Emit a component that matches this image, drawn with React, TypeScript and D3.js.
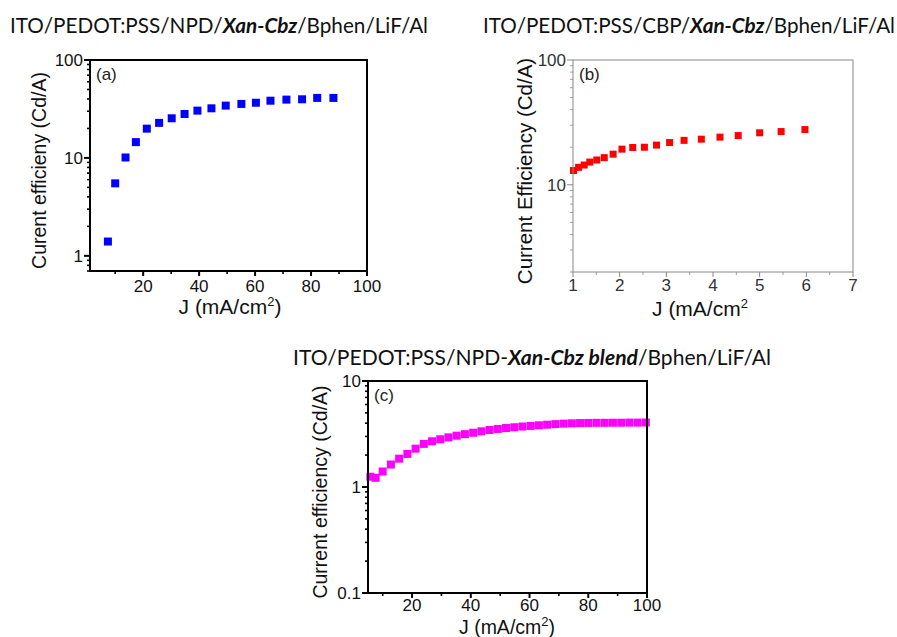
import React from 'react'
import * as d3 from 'd3'

// panel (a) ITO/PEDOT:PSS/NPD/Xan-Cbz/Bphen/LiF/Al
const jA = [7.4, 10.0, 13.7, 17.4, 21.3, 25.7, 30.2, 34.8, 39.4, 44.4, 49.5, 55.1, 60.3, 65.5, 71.2, 76.8, 82.2, 88.0]
const ceA = [1.4, 5.5, 10.1, 14.5, 19.9, 22.8, 25.4, 28.1, 30.4, 32.1, 34.2, 35.6, 36.6, 38.4, 39.4, 39.7, 41.0, 41.0]

// panel (b) ITO/PEDOT:PSS/CBP/Xan-Cbz/Bphen/LiF/Al
const jB = [1.01, 1.12, 1.24, 1.36, 1.51, 1.67, 1.86, 2.05, 2.28, 2.53, 2.79, 3.07, 3.38, 3.75, 4.15, 4.54, 5.0, 5.46, 5.97]
const ceB = [13.0, 13.8, 14.4, 15.2, 15.8, 16.5, 17.6, 19.3, 19.9, 20.0, 20.8, 21.8, 22.7, 23.2, 24.1, 24.8, 26.1, 26.7, 27.7]

// panel (c) ITO/PEDOT:PSS/NPD-Xan-Cbz blend/Bphen/LiF/Al
const jC = [5.8, 7.6, 10.0, 12.8, 15.6, 18.4, 21.2, 24.0, 26.8, 29.6, 32.4, 35.2, 38.0, 40.8, 43.6, 46.4, 49.2, 52.0, 54.8, 57.6, 60.4, 63.2, 66.0, 68.8, 71.6, 74.4, 77.2, 80.0, 82.8, 85.6, 88.4, 91.2, 94.0, 96.8, 99.6]
const ceC = [1.25, 1.22, 1.40, 1.63, 1.85, 2.05, 2.30, 2.55, 2.70, 2.82, 2.94, 3.05, 3.15, 3.25, 3.35, 3.45, 3.53, 3.60, 3.66, 3.72, 3.77, 3.82, 3.87, 3.92, 3.96, 3.99, 4.01, 4.02, 4.03, 4.03, 4.04, 4.04, 4.05, 4.05, 4.06]

const xTicksA = [20, 40, 60, 80, 100]
const xMinorA = [10, 30, 50, 70, 90]
const xTicksB = [1, 2, 3, 4, 5, 6, 7]
const xMinorB = [1.5, 2.5, 3.5, 4.5, 5.5, 6.5]
const xTicksC = [20, 40, 60, 80, 100]
const xMinorC = [10, 30, 50, 70, 90]

const ARIAL = '"Liberation Sans", Arial, sans-serif'
const TITLE_FONT = 'Lato, "Open Sans", sans-serif'

type PanelProps = {
	x: number[]
	y: number[]
	color: string
	left: number
	right: number
	top: number
	bottom: number
	xDomain: [number, number]
	yDomain: [number, number]
	xTicks: number[]
	xMinor: number[]
	letter: string
	yLabel: string
	yLabelX: number
	yLabelSize: number
	xLabelX: number
	xLabelY: number
	xLabelSize: number
	closeParen: boolean
	axisColor: string
	axisWidth: number
	marker: number
	tickBase: number
}

function Panel(p: PanelProps) {
	const xs = d3.scaleLinear().domain(p.xDomain).range([p.left, p.right])
	const ys = d3.scaleLog().domain(p.yDomain).range([p.bottom, p.top])
	const majors: number[] = []
	const minors: number[] = []
	for (let e = -2; e <= 3; e++) {
		const base = Math.pow(10, e)
		if (base >= p.yDomain[0] - 1e-9 && base <= p.yDomain[1] + 1e-9) majors.push(base)
		for (let k = 2; k <= 9; k++) {
			const v = k * base
			if (v >= p.yDomain[0] - 1e-9 && v <= p.yDomain[1] + 1e-9) minors.push(v)
		}
	}
	const fmt = (v: number) => (v < 1 ? String(+v.toFixed(1)) : String(v))
	const tc = p.axisColor === '#000' ? '#111' : '#333'
	return (
		<g>
			{p.x.map((d, i) => (
				<rect key={'m' + i} x={xs(d) - p.marker / 2} y={ys(p.y[i]) - p.marker / 2}
					width={p.marker} height={p.marker} fill={p.color} />
			))}
			<rect x={p.left} y={p.top} width={p.right - p.left} height={p.bottom - p.top}
				fill="none" stroke={p.axisColor} strokeWidth={p.axisWidth} />
			{majors.map(v => (
				<g key={'ym' + v}>
					<line x1={p.left - 6} x2={p.left} y1={ys(v)} y2={ys(v)} stroke={p.axisColor} strokeWidth={p.axisWidth} />
					<text x={p.left - 7} y={ys(v)} dy="0.35em" textAnchor="end" fontFamily={ARIAL} fontSize={17} fill={tc}>{fmt(v)}</text>
				</g>
			))}
			{minors.map(v => (
				<line key={'yn' + v} x1={p.left - 3} x2={p.left} y1={ys(v)} y2={ys(v)} stroke={p.axisColor} strokeWidth={p.axisWidth * 0.8} />
			))}
			{p.xTicks.map(v => (
				<g key={'xm' + v}>
					<line x1={xs(v)} x2={xs(v)} y1={p.bottom} y2={p.bottom + 5} stroke={p.axisColor} strokeWidth={p.axisWidth} />
					<text x={xs(v)} y={p.bottom + p.tickBase} textAnchor="middle" fontFamily={ARIAL} fontSize={17} fill={tc}>{v}</text>
				</g>
			))}
			{p.xMinor.map(v => (
				<line key={'xn' + v} x1={xs(v)} x2={xs(v)} y1={p.bottom} y2={p.bottom + 3} stroke={p.axisColor} strokeWidth={p.axisWidth * 0.8} />
			))}
			<text x={p.left + 6} y={p.top + 20} fontFamily={ARIAL} fontSize={17} fill="#222">{p.letter}</text>
			<text transform={`translate(${p.yLabelX},${(p.top + p.bottom) / 2 + 5}) rotate(-90)`} textAnchor="middle"
				dy="0.35em" fontFamily={ARIAL} fontSize={p.yLabelSize} fill="#111">{p.yLabel}</text>
			<text x={p.xLabelX} y={p.xLabelY} textAnchor="middle" fontFamily={ARIAL} fontSize={p.xLabelSize} fill="#111">
				J (mA/cm<tspan dy={-8} fontSize={13}>2</tspan>{p.closeParen ? <tspan dy={8}>)</tspan> : null}
			</text>
		</g>
	)
}

function Title(props: { x: number, y: number, width: number, pre: string, bold: string, post: string }) {
	return (
		<text x={props.x} y={props.y} fontFamily={TITLE_FONT} fontSize={21} fill="#111"
			textLength={props.width} lengthAdjust="spacingAndGlyphs">
			{props.pre}<tspan fontWeight="bold" fontStyle="italic">{props.bold}</tspan>{props.post}
		</text>
	)
}

export default function App() {
	return (
		<div style={{ position: 'absolute', left: 0, top: 0 }}>
			<svg width={897} height={637} style={{ display: 'block', background: '#fff' }}>
				<Title x={10} y={33} width={418} pre="ITO/PEDOT:PSS/NPD/" bold="Xan-Cbz" post="/Bphen/LiF/Al" />
				<Title x={483} y={33} width={412} pre="ITO/PEDOT:PSS/CBP/" bold="Xan-Cbz" post="/Bphen/LiF/Al" />
				<Title x={293} y={365} width={478} pre="ITO/PEDOT:PSS/NPD-" bold="Xan-Cbz blend" post="/Bphen/LiF/Al" />

				<Panel x={jA} y={ceA} color="#0000ff" left={90} right={367} top={60} bottom={271}
					xDomain={[1, 100]} yDomain={[0.7, 100]} xTicks={xTicksA} xMinor={xMinorA} letter="(a)"
					yLabel="Curent efficieny (Cd/A)" yLabelX={39} yLabelSize={19.5} xLabelX={230} xLabelY={314}
					xLabelSize={21} closeParen={true} axisColor="#000" axisWidth={2} marker={8} tickBase={21} />
				<Panel x={jB} y={ceB} color="#ff0000" left={573} right={853} top={60} bottom={272}
					xDomain={[1, 7]} yDomain={[2, 100]} xTicks={xTicksB} xMinor={xMinorB} letter="(b)"
					yLabel="Current Efficiency (Cd/A)" yLabelX={525} yLabelSize={20.5} xLabelX={700} xLabelY={316}
					xLabelSize={21} closeParen={false} axisColor="#888" axisWidth={1} marker={7} tickBase={19} />
				<Panel x={jC} y={ceC} color="#ff00ff" left={368} right={647} top={381} bottom={593}
					xDomain={[5, 100]} yDomain={[0.1, 10]} xTicks={xTicksC} xMinor={xMinorC} letter="(c)"
					yLabel="Current efficiency (Cd/A)" yLabelX={320} yLabelSize={19.5} xLabelX={507} xLabelY={634}
					xLabelSize={19.5} closeParen={true} axisColor="#000" axisWidth={2} marker={8} tickBase={18} />
			</svg>
		</div>
	)
}
